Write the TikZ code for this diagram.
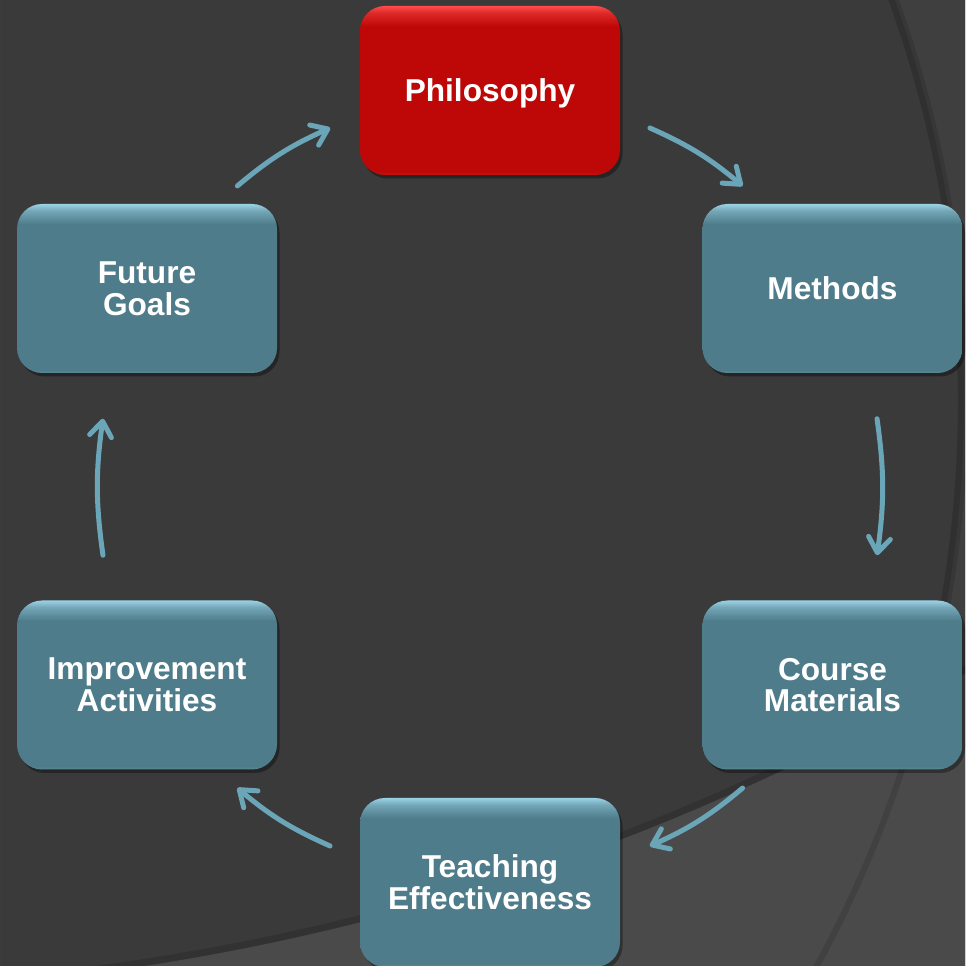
\documentclass[tikz,border=0pt]{standalone}
\usepackage{fontspec}
\setmainfont{Liberation Sans}
\usetikzlibrary{arrows.meta,shadows,calc}

\definecolor{bgdark}{HTML}{3A3A3A}
\definecolor{bgmid}{HTML}{3F3F3F}
\definecolor{bglight}{HTML}{4A4A4A}
\definecolor{tealmain}{HTML}{4E7C8A}
\definecolor{tealhi}{HTML}{9AD2E6}
\definecolor{redmain}{HTML}{BE0808}
\definecolor{redhi}{HTML}{FF4B4B}
\definecolor{arrteal}{HTML}{6BA5B8}

\pgfdeclareverticalshading{tealgloss}{100bp}{color(0bp)=(tealmain!85!tealhi);
  color(25bp)=(tealmain!85!tealhi); color(26bp)=(tealmain); color(69bp)=(tealmain);
  color(73bp)=(tealmain!50!tealhi); color(75bp)=(tealhi); color(100bp)=(tealhi)}
\pgfdeclareverticalshading{redgloss}{100bp}{color(0bp)=(redmain!85!redhi);
  color(25bp)=(redmain!85!redhi); color(26bp)=(redmain); color(69bp)=(redmain);
  color(73bp)=(redmain!50!redhi); color(75bp)=(redhi); color(100bp)=(redhi)}

\tikzset{
  cyclebox/.style={rounded corners=0.5cm, shade, shading=tealgloss, draw=none,
                   minimum width=5.2cm, minimum height=3.38cm, inner sep=2pt,
                   align=center, text=white, font=\fontsize{18}{18}\selectfont\bfseries,
                   drop shadow={shadow xshift=0.05cm, shadow yshift=-0.07cm, opacity=0.35, fill=black}},
  redbox/.style={cyclebox, shading=redgloss},
  cyclearr/.style={-{Straight Barb[length=3mm,width=4.4mm,round]}, draw=arrteal,
                   line width=0.1cm, line cap=round},
}

\begin{document}
\begin{tikzpicture}[x=1cm,y=1cm]
\useasboundingbox (0,0) rectangle (19.3,19.32);
\fill[bgdark] (0,0) rectangle (19.3,19.32);
\begin{scope}
  \clip (0,0) rectangle (19.3,19.32);
  \fill[bgmid, even odd rule] (0,0) rectangle (19.3,19.32) (-4.4,11.32) circle (23.56);
  \draw[black, opacity=0.12, line width=0.2cm] (-4.4,11.32) circle (23.66);
  \fill[bglight, even odd rule] (0,0) rectangle (19.3,19.32) (-4.22,45.9) circle (46.44);
  \draw[black, opacity=0.12, line width=0.14cm] (-4.22,45.9) circle (46.37);
  \draw[black, opacity=0.12, line width=0.12cm] (-4.4,11.32) circle (23.62);
\end{scope}

\node[redbox, text depth=0pt] (phil) at (9.8,17.51) {Philosophy};
\node[cyclebox] (meth) at (16.65,13.55) {Methods};
\node[cyclebox] (mat) at (16.65,5.62) {Course\\Materials};
\node[cyclebox] (teach) at (9.8,1.67) {Teaching\\Effectiveness};
\node[cyclebox] (impr) at (2.94,5.62) {Improvement\\Activities};
\node[cyclebox] (goal) at (2.94,13.55) {Future\\Goals};

\coordinate (c) at (9.8,9.58);
\foreach \n/\a/\b in {1/66/50, 2/10/-10, 3/-50/-66, 4/-114/-130, 5/-170/-190, 6/130/114} {
  \coordinate (s\n) at ($(c)+(\a:7.86)$);
  \coordinate (e\n) at ($(c)+(\b:7.86)$);
}
\foreach \n in {1,...,6}
  \draw[cyclearr] (s\n) to[bend left=8] (e\n);
\end{tikzpicture}
\end{document}
